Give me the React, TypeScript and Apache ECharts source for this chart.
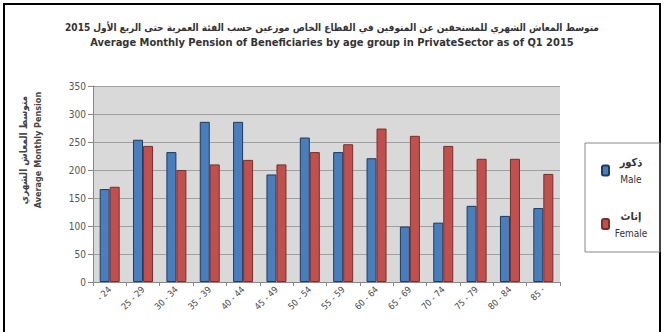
import React, { useEffect, useRef } from "react";
import * as echarts from "echarts";

const categories = ["- 24", "25 - 29", "30 - 34", "35 - 39", "40 - 44", "45 - 49", "50 - 54", "55 - 59", "60 - 64", "65 - 69", "70 - 74", "75 - 79", "80 - 84", "85 -"];
const maleValues = [166, 254, 232, 286, 286, 192, 258, 232, 221, 99, 106, 136, 118, 132];
const femaleValues = [170, 243, 200, 210, 218, 210, 232, 246, 274, 261, 243, 220, 220, 193];
const yTicks = { min: 0, max: 350, interval: 50 };
const titleAr = "متوسط المعاش الشهري للمستحقين عن المتوفين في القطاع الخاص موزعين حسب الفئة العمرية حتى الربع الأول 2015";
const titleEn = "Average Monthly Pension of Beneficiaries by age group in PrivateSector as of Q1 2015";
const yTitleAr = "متوسط المعاش الشهري";
const yTitleEn = "Average Monthly Pension";
const seriesNames = ["Male", "Female"];
const seriesAr: Record<string, string> = { Male: "ذكور", Female: "إناث" };

const FONT = '"Liberation Sans Narrow", "DejaVu Sans Condensed", "Liberation Sans", sans-serif';

export default function App() {
  const ref = useRef<HTMLDivElement>(null);
  useEffect(() => {
    if (!ref.current) return;
    const chart = echarts.init(ref.current, null, { renderer: "svg" });
    chart.setOption({
      animation: false,
      backgroundColor: "#ffffff",
      textStyle: { fontFamily: FONT },
      title: {
        text: titleAr,
        subtext: titleEn,
        left: "center",
        top: 17,
        itemGap: 5,
        textStyle: { fontFamily: FONT, fontSize: 10, fontWeight: "bold", color: "#333" },
        subtextStyle: { fontFamily: FONT, fontSize: 11, fontWeight: "bold", color: "#333" },
      },
      legend: {
        orient: "vertical",
        left: 585,
        top: 143,
        width: 77,
        padding: [14, 12, 14, 16],
        itemGap: 26,
        itemWidth: 7,
        itemHeight: 10,
        borderColor: "#888",
        borderWidth: 1,
        data: seriesNames,
        formatter: (name: string) => `{ar|${seriesAr[name]}}\n{en|${name}}`,
        textStyle: {
          fontFamily: FONT,
          color: "#333",
          rich: {
            ar: { fontSize: 11, fontWeight: "bold", align: "center", width: 34, lineHeight: 18 },
            en: { fontSize: 10, align: "center", width: 34, lineHeight: 16 },
          },
        },
      },
      grid: {
        left: 93,
        right: 104,
        top: 86,
        bottom: 50,
        show: true,
        backgroundColor: "#d9d9d9",
        borderWidth: 0,
      },
      xAxis: {
        type: "category",
        data: categories,
        axisLine: { show: true, lineStyle: { color: "#888" } },
        axisTick: { show: true, length: 4, lineStyle: { color: "#888" } },
        axisLabel: { rotate: 45, fontSize: 9, color: "#444", margin: 6, interval: 0, fontFamily: FONT },
      },
      yAxis: {
        type: "value",
        min: yTicks.min,
        max: yTicks.max,
        interval: yTicks.interval,
        axisLine: { show: true, lineStyle: { color: "#888" } },
        axisTick: { show: true, length: 5, lineStyle: { color: "#888" } },
        axisLabel: { fontSize: 10, color: "#555", margin: 7, fontFamily: FONT },
        splitLine: { show: true, lineStyle: { color: "#a0a0a0", width: 1 } },
      },
      series: [
        {
          name: seriesNames[0],
          type: "bar",
          data: maleValues,
          barWidth: 10,
          barGap: "0%",
          itemStyle: { color: "#4a7ebb", borderColor: "#1f3a5f", borderWidth: 1 },
        },
        {
          name: seriesNames[1],
          type: "bar",
          data: femaleValues,
          barWidth: 10,
          itemStyle: { color: "#c0504d", borderColor: "#7a2f2d", borderWidth: 1 },
        },
      ],
      graphic: [
        {
          type: "rect",
          shape: { x: 4, y: 4, width: 656, height: 340 },
          style: { fill: "none", stroke: "#000", lineWidth: 2 },
          silent: true,
        },
        {
          type: "text",
          x: 23,
          y: 150,
          rotation: Math.PI / 2,
          style: { text: yTitleAr, font: `bold 10px ${FONT}`, fill: "#444", textAlign: "center", textVerticalAlign: "middle" },
        },
        {
          type: "text",
          x: 38,
          y: 150,
          rotation: Math.PI / 2,
          style: { text: yTitleEn, font: `bold 9px ${FONT}`, fill: "#444", textAlign: "center", textVerticalAlign: "middle" },
        },
      ],
    });
    return () => chart.dispose();
  }, []);
  return <div ref={ref} style={{ position: "fixed", left: 0, top: 0, width: 664, height: 332 }} />;
}
